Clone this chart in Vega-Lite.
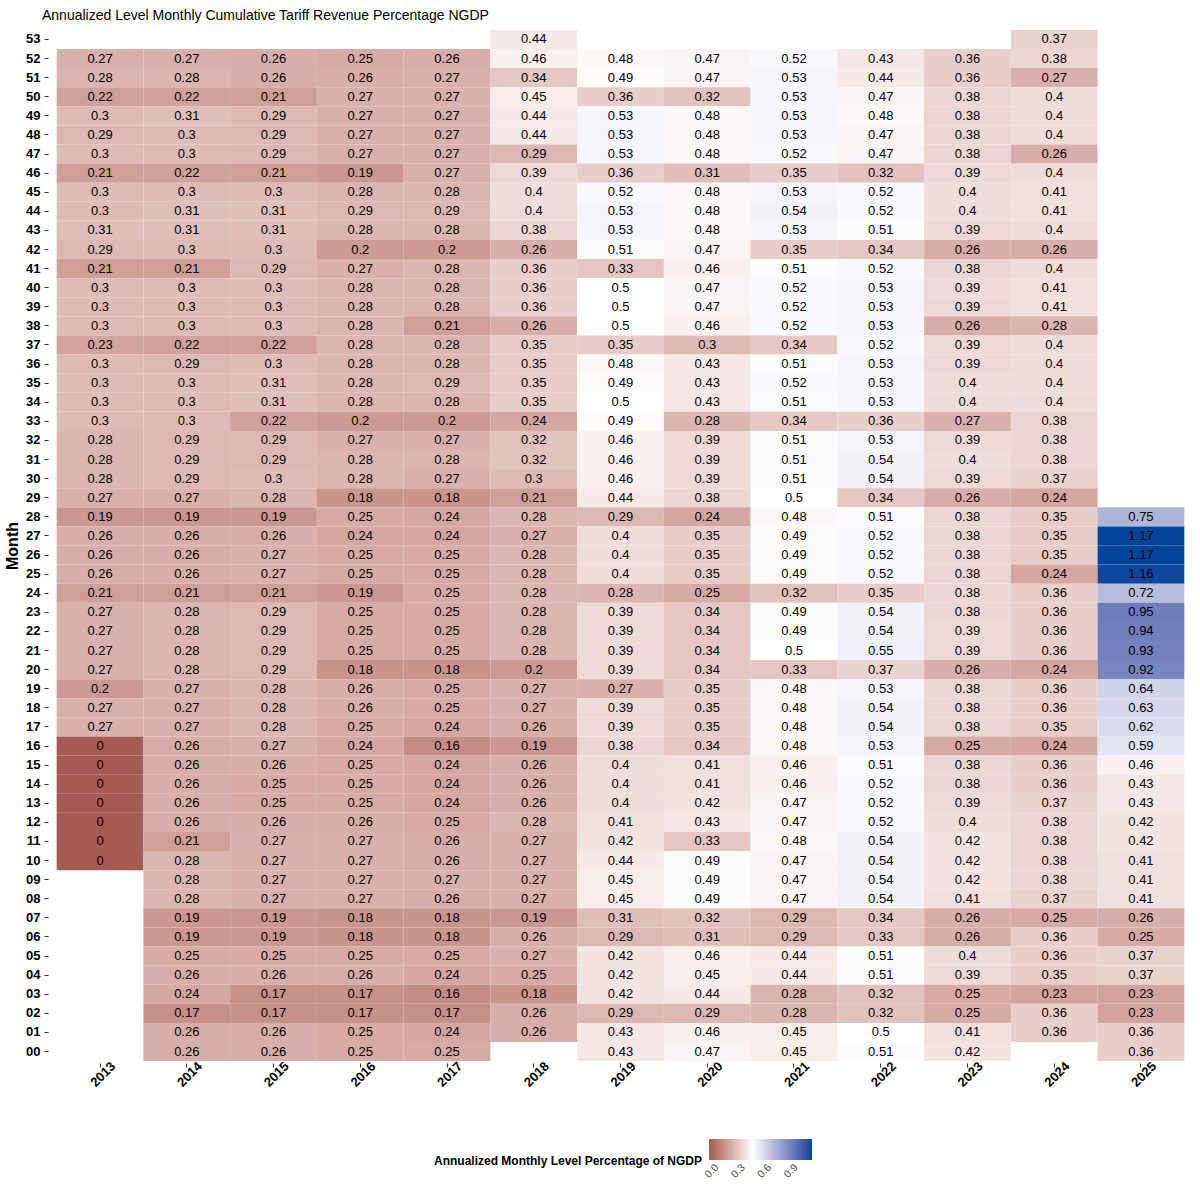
{
"$schema": "https://vega.github.io/schema/vega-lite/v6.json",
"width": 1145, "height": 1035,
"autosize": {"type": "none"},
"padding": {"left": 48, "top": 28, "right": 7, "bottom": 137},
"background": "white",
"title": {"text": "Annualized Level Monthly Cumulative Tariff Revenue Percentage NGDP", "anchor": "start", "frame": "group", "fontSize": 14, "fontWeight": "normal", "font": "Liberation Sans", "color": "black", "dx": -6, "dy": 16, "offset": 10, "baseline": "alphabetic"},
"data": {"values": [
{"year":"2013","week":"52","value":0.27},{"year":"2013","week":"51","value":0.28},{"year":"2013","week":"50","value":0.22},{"year":"2013","week":"49","value":0.3},{"year":"2013","week":"48","value":0.29},{"year":"2013","week":"47","value":0.3},{"year":"2013","week":"46","value":0.21},{"year":"2013","week":"45","value":0.3},{"year":"2013","week":"44","value":0.3},{"year":"2013","week":"43","value":0.31},{"year":"2013","week":"42","value":0.29},{"year":"2013","week":"41","value":0.21},{"year":"2013","week":"40","value":0.3},{"year":"2013","week":"39","value":0.3},{"year":"2013","week":"38","value":0.3},{"year":"2013","week":"37","value":0.23},{"year":"2013","week":"36","value":0.3},{"year":"2013","week":"35","value":0.3},{"year":"2013","week":"34","value":0.3},{"year":"2013","week":"33","value":0.3},{"year":"2013","week":"32","value":0.28},{"year":"2013","week":"31","value":0.28},{"year":"2013","week":"30","value":0.28},{"year":"2013","week":"29","value":0.27},{"year":"2013","week":"28","value":0.19},{"year":"2013","week":"27","value":0.26},{"year":"2013","week":"26","value":0.26},{"year":"2013","week":"25","value":0.26},{"year":"2013","week":"24","value":0.21},{"year":"2013","week":"23","value":0.27},{"year":"2013","week":"22","value":0.27},{"year":"2013","week":"21","value":0.27},{"year":"2013","week":"20","value":0.27},{"year":"2013","week":"19","value":0.2},{"year":"2013","week":"18","value":0.27},{"year":"2013","week":"17","value":0.27},{"year":"2013","week":"16","value":0},{"year":"2013","week":"15","value":0},{"year":"2013","week":"14","value":0},{"year":"2013","week":"13","value":0},{"year":"2013","week":"12","value":0},{"year":"2013","week":"11","value":0},{"year":"2013","week":"10","value":0},
{"year":"2014","week":"52","value":0.27},{"year":"2014","week":"51","value":0.28},{"year":"2014","week":"50","value":0.22},{"year":"2014","week":"49","value":0.31},{"year":"2014","week":"48","value":0.3},{"year":"2014","week":"47","value":0.3},{"year":"2014","week":"46","value":0.22},{"year":"2014","week":"45","value":0.3},{"year":"2014","week":"44","value":0.31},{"year":"2014","week":"43","value":0.31},{"year":"2014","week":"42","value":0.3},{"year":"2014","week":"41","value":0.21},{"year":"2014","week":"40","value":0.3},{"year":"2014","week":"39","value":0.3},{"year":"2014","week":"38","value":0.3},{"year":"2014","week":"37","value":0.22},{"year":"2014","week":"36","value":0.29},{"year":"2014","week":"35","value":0.3},{"year":"2014","week":"34","value":0.3},{"year":"2014","week":"33","value":0.3},{"year":"2014","week":"32","value":0.29},{"year":"2014","week":"31","value":0.29},{"year":"2014","week":"30","value":0.29},{"year":"2014","week":"29","value":0.27},{"year":"2014","week":"28","value":0.19},{"year":"2014","week":"27","value":0.26},{"year":"2014","week":"26","value":0.26},{"year":"2014","week":"25","value":0.26},{"year":"2014","week":"24","value":0.21},{"year":"2014","week":"23","value":0.28},{"year":"2014","week":"22","value":0.28},{"year":"2014","week":"21","value":0.28},{"year":"2014","week":"20","value":0.28},{"year":"2014","week":"19","value":0.27},{"year":"2014","week":"18","value":0.27},{"year":"2014","week":"17","value":0.27},{"year":"2014","week":"16","value":0.26},{"year":"2014","week":"15","value":0.26},{"year":"2014","week":"14","value":0.26},{"year":"2014","week":"13","value":0.26},{"year":"2014","week":"12","value":0.26},{"year":"2014","week":"11","value":0.21},{"year":"2014","week":"10","value":0.28},{"year":"2014","week":"09","value":0.28},{"year":"2014","week":"08","value":0.28},{"year":"2014","week":"07","value":0.19},{"year":"2014","week":"06","value":0.19},{"year":"2014","week":"05","value":0.25},{"year":"2014","week":"04","value":0.26},{"year":"2014","week":"03","value":0.24},{"year":"2014","week":"02","value":0.17},{"year":"2014","week":"01","value":0.26},{"year":"2014","week":"00","value":0.26},
{"year":"2015","week":"52","value":0.26},{"year":"2015","week":"51","value":0.26},{"year":"2015","week":"50","value":0.21},{"year":"2015","week":"49","value":0.29},{"year":"2015","week":"48","value":0.29},{"year":"2015","week":"47","value":0.29},{"year":"2015","week":"46","value":0.21},{"year":"2015","week":"45","value":0.3},{"year":"2015","week":"44","value":0.31},{"year":"2015","week":"43","value":0.31},{"year":"2015","week":"42","value":0.3},{"year":"2015","week":"41","value":0.29},{"year":"2015","week":"40","value":0.3},{"year":"2015","week":"39","value":0.3},{"year":"2015","week":"38","value":0.3},{"year":"2015","week":"37","value":0.22},{"year":"2015","week":"36","value":0.3},{"year":"2015","week":"35","value":0.31},{"year":"2015","week":"34","value":0.31},{"year":"2015","week":"33","value":0.22},{"year":"2015","week":"32","value":0.29},{"year":"2015","week":"31","value":0.29},{"year":"2015","week":"30","value":0.3},{"year":"2015","week":"29","value":0.28},{"year":"2015","week":"28","value":0.19},{"year":"2015","week":"27","value":0.26},{"year":"2015","week":"26","value":0.27},{"year":"2015","week":"25","value":0.27},{"year":"2015","week":"24","value":0.21},{"year":"2015","week":"23","value":0.29},{"year":"2015","week":"22","value":0.29},{"year":"2015","week":"21","value":0.29},{"year":"2015","week":"20","value":0.29},{"year":"2015","week":"19","value":0.28},{"year":"2015","week":"18","value":0.28},{"year":"2015","week":"17","value":0.28},{"year":"2015","week":"16","value":0.27},{"year":"2015","week":"15","value":0.26},{"year":"2015","week":"14","value":0.25},{"year":"2015","week":"13","value":0.25},{"year":"2015","week":"12","value":0.26},{"year":"2015","week":"11","value":0.27},{"year":"2015","week":"10","value":0.27},{"year":"2015","week":"09","value":0.27},{"year":"2015","week":"08","value":0.27},{"year":"2015","week":"07","value":0.19},{"year":"2015","week":"06","value":0.19},{"year":"2015","week":"05","value":0.25},{"year":"2015","week":"04","value":0.26},{"year":"2015","week":"03","value":0.17},{"year":"2015","week":"02","value":0.17},{"year":"2015","week":"01","value":0.26},{"year":"2015","week":"00","value":0.26},
{"year":"2016","week":"52","value":0.25},{"year":"2016","week":"51","value":0.26},{"year":"2016","week":"50","value":0.27},{"year":"2016","week":"49","value":0.27},{"year":"2016","week":"48","value":0.27},{"year":"2016","week":"47","value":0.27},{"year":"2016","week":"46","value":0.19},{"year":"2016","week":"45","value":0.28},{"year":"2016","week":"44","value":0.29},{"year":"2016","week":"43","value":0.28},{"year":"2016","week":"42","value":0.2},{"year":"2016","week":"41","value":0.27},{"year":"2016","week":"40","value":0.28},{"year":"2016","week":"39","value":0.28},{"year":"2016","week":"38","value":0.28},{"year":"2016","week":"37","value":0.28},{"year":"2016","week":"36","value":0.28},{"year":"2016","week":"35","value":0.28},{"year":"2016","week":"34","value":0.28},{"year":"2016","week":"33","value":0.2},{"year":"2016","week":"32","value":0.27},{"year":"2016","week":"31","value":0.28},{"year":"2016","week":"30","value":0.28},{"year":"2016","week":"29","value":0.18},{"year":"2016","week":"28","value":0.25},{"year":"2016","week":"27","value":0.24},{"year":"2016","week":"26","value":0.25},{"year":"2016","week":"25","value":0.25},{"year":"2016","week":"24","value":0.19},{"year":"2016","week":"23","value":0.25},{"year":"2016","week":"22","value":0.25},{"year":"2016","week":"21","value":0.25},{"year":"2016","week":"20","value":0.18},{"year":"2016","week":"19","value":0.26},{"year":"2016","week":"18","value":0.26},{"year":"2016","week":"17","value":0.25},{"year":"2016","week":"16","value":0.24},{"year":"2016","week":"15","value":0.25},{"year":"2016","week":"14","value":0.25},{"year":"2016","week":"13","value":0.25},{"year":"2016","week":"12","value":0.26},{"year":"2016","week":"11","value":0.27},{"year":"2016","week":"10","value":0.27},{"year":"2016","week":"09","value":0.27},{"year":"2016","week":"08","value":0.27},{"year":"2016","week":"07","value":0.18},{"year":"2016","week":"06","value":0.18},{"year":"2016","week":"05","value":0.25},{"year":"2016","week":"04","value":0.26},{"year":"2016","week":"03","value":0.17},{"year":"2016","week":"02","value":0.17},{"year":"2016","week":"01","value":0.25},{"year":"2016","week":"00","value":0.25},
{"year":"2017","week":"52","value":0.26},{"year":"2017","week":"51","value":0.27},{"year":"2017","week":"50","value":0.27},{"year":"2017","week":"49","value":0.27},{"year":"2017","week":"48","value":0.27},{"year":"2017","week":"47","value":0.27},{"year":"2017","week":"46","value":0.27},{"year":"2017","week":"45","value":0.28},{"year":"2017","week":"44","value":0.29},{"year":"2017","week":"43","value":0.28},{"year":"2017","week":"42","value":0.2},{"year":"2017","week":"41","value":0.28},{"year":"2017","week":"40","value":0.28},{"year":"2017","week":"39","value":0.28},{"year":"2017","week":"38","value":0.21},{"year":"2017","week":"37","value":0.28},{"year":"2017","week":"36","value":0.28},{"year":"2017","week":"35","value":0.29},{"year":"2017","week":"34","value":0.28},{"year":"2017","week":"33","value":0.2},{"year":"2017","week":"32","value":0.27},{"year":"2017","week":"31","value":0.28},{"year":"2017","week":"30","value":0.27},{"year":"2017","week":"29","value":0.18},{"year":"2017","week":"28","value":0.24},{"year":"2017","week":"27","value":0.24},{"year":"2017","week":"26","value":0.25},{"year":"2017","week":"25","value":0.25},{"year":"2017","week":"24","value":0.25},{"year":"2017","week":"23","value":0.25},{"year":"2017","week":"22","value":0.25},{"year":"2017","week":"21","value":0.25},{"year":"2017","week":"20","value":0.18},{"year":"2017","week":"19","value":0.25},{"year":"2017","week":"18","value":0.25},{"year":"2017","week":"17","value":0.24},{"year":"2017","week":"16","value":0.16},{"year":"2017","week":"15","value":0.24},{"year":"2017","week":"14","value":0.24},{"year":"2017","week":"13","value":0.24},{"year":"2017","week":"12","value":0.25},{"year":"2017","week":"11","value":0.26},{"year":"2017","week":"10","value":0.26},{"year":"2017","week":"09","value":0.27},{"year":"2017","week":"08","value":0.26},{"year":"2017","week":"07","value":0.18},{"year":"2017","week":"06","value":0.18},{"year":"2017","week":"05","value":0.25},{"year":"2017","week":"04","value":0.24},{"year":"2017","week":"03","value":0.16},{"year":"2017","week":"02","value":0.17},{"year":"2017","week":"01","value":0.24},{"year":"2017","week":"00","value":0.25},
{"year":"2018","week":"53","value":0.44},{"year":"2018","week":"52","value":0.46},{"year":"2018","week":"51","value":0.34},{"year":"2018","week":"50","value":0.45},{"year":"2018","week":"49","value":0.44},{"year":"2018","week":"48","value":0.44},{"year":"2018","week":"47","value":0.29},{"year":"2018","week":"46","value":0.39},{"year":"2018","week":"45","value":0.4},{"year":"2018","week":"44","value":0.4},{"year":"2018","week":"43","value":0.38},{"year":"2018","week":"42","value":0.26},{"year":"2018","week":"41","value":0.36},{"year":"2018","week":"40","value":0.36},{"year":"2018","week":"39","value":0.36},{"year":"2018","week":"38","value":0.26},{"year":"2018","week":"37","value":0.35},{"year":"2018","week":"36","value":0.35},{"year":"2018","week":"35","value":0.35},{"year":"2018","week":"34","value":0.35},{"year":"2018","week":"33","value":0.24},{"year":"2018","week":"32","value":0.32},{"year":"2018","week":"31","value":0.32},{"year":"2018","week":"30","value":0.3},{"year":"2018","week":"29","value":0.21},{"year":"2018","week":"28","value":0.28},{"year":"2018","week":"27","value":0.27},{"year":"2018","week":"26","value":0.28},{"year":"2018","week":"25","value":0.28},{"year":"2018","week":"24","value":0.28},{"year":"2018","week":"23","value":0.28},{"year":"2018","week":"22","value":0.28},{"year":"2018","week":"21","value":0.28},{"year":"2018","week":"20","value":0.2},{"year":"2018","week":"19","value":0.27},{"year":"2018","week":"18","value":0.27},{"year":"2018","week":"17","value":0.26},{"year":"2018","week":"16","value":0.19},{"year":"2018","week":"15","value":0.26},{"year":"2018","week":"14","value":0.26},{"year":"2018","week":"13","value":0.26},{"year":"2018","week":"12","value":0.28},{"year":"2018","week":"11","value":0.27},{"year":"2018","week":"10","value":0.27},{"year":"2018","week":"09","value":0.27},{"year":"2018","week":"08","value":0.27},{"year":"2018","week":"07","value":0.19},{"year":"2018","week":"06","value":0.26},{"year":"2018","week":"05","value":0.27},{"year":"2018","week":"04","value":0.25},{"year":"2018","week":"03","value":0.18},{"year":"2018","week":"02","value":0.26},{"year":"2018","week":"01","value":0.26},
{"year":"2019","week":"52","value":0.48},{"year":"2019","week":"51","value":0.49},{"year":"2019","week":"50","value":0.36},{"year":"2019","week":"49","value":0.53},{"year":"2019","week":"48","value":0.53},{"year":"2019","week":"47","value":0.53},{"year":"2019","week":"46","value":0.36},{"year":"2019","week":"45","value":0.52},{"year":"2019","week":"44","value":0.53},{"year":"2019","week":"43","value":0.53},{"year":"2019","week":"42","value":0.51},{"year":"2019","week":"41","value":0.33},{"year":"2019","week":"40","value":0.5},{"year":"2019","week":"39","value":0.5},{"year":"2019","week":"38","value":0.5},{"year":"2019","week":"37","value":0.35},{"year":"2019","week":"36","value":0.48},{"year":"2019","week":"35","value":0.49},{"year":"2019","week":"34","value":0.5},{"year":"2019","week":"33","value":0.49},{"year":"2019","week":"32","value":0.46},{"year":"2019","week":"31","value":0.46},{"year":"2019","week":"30","value":0.46},{"year":"2019","week":"29","value":0.44},{"year":"2019","week":"28","value":0.29},{"year":"2019","week":"27","value":0.4},{"year":"2019","week":"26","value":0.4},{"year":"2019","week":"25","value":0.4},{"year":"2019","week":"24","value":0.28},{"year":"2019","week":"23","value":0.39},{"year":"2019","week":"22","value":0.39},{"year":"2019","week":"21","value":0.39},{"year":"2019","week":"20","value":0.39},{"year":"2019","week":"19","value":0.27},{"year":"2019","week":"18","value":0.39},{"year":"2019","week":"17","value":0.39},{"year":"2019","week":"16","value":0.38},{"year":"2019","week":"15","value":0.4},{"year":"2019","week":"14","value":0.4},{"year":"2019","week":"13","value":0.4},{"year":"2019","week":"12","value":0.41},{"year":"2019","week":"11","value":0.42},{"year":"2019","week":"10","value":0.44},{"year":"2019","week":"09","value":0.45},{"year":"2019","week":"08","value":0.45},{"year":"2019","week":"07","value":0.31},{"year":"2019","week":"06","value":0.29},{"year":"2019","week":"05","value":0.42},{"year":"2019","week":"04","value":0.42},{"year":"2019","week":"03","value":0.42},{"year":"2019","week":"02","value":0.29},{"year":"2019","week":"01","value":0.43},{"year":"2019","week":"00","value":0.43},
{"year":"2020","week":"52","value":0.47},{"year":"2020","week":"51","value":0.47},{"year":"2020","week":"50","value":0.32},{"year":"2020","week":"49","value":0.48},{"year":"2020","week":"48","value":0.48},{"year":"2020","week":"47","value":0.48},{"year":"2020","week":"46","value":0.31},{"year":"2020","week":"45","value":0.48},{"year":"2020","week":"44","value":0.48},{"year":"2020","week":"43","value":0.48},{"year":"2020","week":"42","value":0.47},{"year":"2020","week":"41","value":0.46},{"year":"2020","week":"40","value":0.47},{"year":"2020","week":"39","value":0.47},{"year":"2020","week":"38","value":0.46},{"year":"2020","week":"37","value":0.3},{"year":"2020","week":"36","value":0.43},{"year":"2020","week":"35","value":0.43},{"year":"2020","week":"34","value":0.43},{"year":"2020","week":"33","value":0.28},{"year":"2020","week":"32","value":0.39},{"year":"2020","week":"31","value":0.39},{"year":"2020","week":"30","value":0.39},{"year":"2020","week":"29","value":0.38},{"year":"2020","week":"28","value":0.24},{"year":"2020","week":"27","value":0.35},{"year":"2020","week":"26","value":0.35},{"year":"2020","week":"25","value":0.35},{"year":"2020","week":"24","value":0.25},{"year":"2020","week":"23","value":0.34},{"year":"2020","week":"22","value":0.34},{"year":"2020","week":"21","value":0.34},{"year":"2020","week":"20","value":0.34},{"year":"2020","week":"19","value":0.35},{"year":"2020","week":"18","value":0.35},{"year":"2020","week":"17","value":0.35},{"year":"2020","week":"16","value":0.34},{"year":"2020","week":"15","value":0.41},{"year":"2020","week":"14","value":0.41},{"year":"2020","week":"13","value":0.42},{"year":"2020","week":"12","value":0.43},{"year":"2020","week":"11","value":0.33},{"year":"2020","week":"10","value":0.49},{"year":"2020","week":"09","value":0.49},{"year":"2020","week":"08","value":0.49},{"year":"2020","week":"07","value":0.32},{"year":"2020","week":"06","value":0.31},{"year":"2020","week":"05","value":0.46},{"year":"2020","week":"04","value":0.45},{"year":"2020","week":"03","value":0.44},{"year":"2020","week":"02","value":0.29},{"year":"2020","week":"01","value":0.46},{"year":"2020","week":"00","value":0.47},
{"year":"2021","week":"52","value":0.52},{"year":"2021","week":"51","value":0.53},{"year":"2021","week":"50","value":0.53},{"year":"2021","week":"49","value":0.53},{"year":"2021","week":"48","value":0.53},{"year":"2021","week":"47","value":0.52},{"year":"2021","week":"46","value":0.35},{"year":"2021","week":"45","value":0.53},{"year":"2021","week":"44","value":0.54},{"year":"2021","week":"43","value":0.53},{"year":"2021","week":"42","value":0.35},{"year":"2021","week":"41","value":0.51},{"year":"2021","week":"40","value":0.52},{"year":"2021","week":"39","value":0.52},{"year":"2021","week":"38","value":0.52},{"year":"2021","week":"37","value":0.34},{"year":"2021","week":"36","value":0.51},{"year":"2021","week":"35","value":0.52},{"year":"2021","week":"34","value":0.51},{"year":"2021","week":"33","value":0.34},{"year":"2021","week":"32","value":0.51},{"year":"2021","week":"31","value":0.51},{"year":"2021","week":"30","value":0.51},{"year":"2021","week":"29","value":0.5},{"year":"2021","week":"28","value":0.48},{"year":"2021","week":"27","value":0.49},{"year":"2021","week":"26","value":0.49},{"year":"2021","week":"25","value":0.49},{"year":"2021","week":"24","value":0.32},{"year":"2021","week":"23","value":0.49},{"year":"2021","week":"22","value":0.49},{"year":"2021","week":"21","value":0.5},{"year":"2021","week":"20","value":0.33},{"year":"2021","week":"19","value":0.48},{"year":"2021","week":"18","value":0.48},{"year":"2021","week":"17","value":0.48},{"year":"2021","week":"16","value":0.48},{"year":"2021","week":"15","value":0.46},{"year":"2021","week":"14","value":0.46},{"year":"2021","week":"13","value":0.47},{"year":"2021","week":"12","value":0.47},{"year":"2021","week":"11","value":0.48},{"year":"2021","week":"10","value":0.47},{"year":"2021","week":"09","value":0.47},{"year":"2021","week":"08","value":0.47},{"year":"2021","week":"07","value":0.29},{"year":"2021","week":"06","value":0.29},{"year":"2021","week":"05","value":0.44},{"year":"2021","week":"04","value":0.44},{"year":"2021","week":"03","value":0.28},{"year":"2021","week":"02","value":0.28},{"year":"2021","week":"01","value":0.45},{"year":"2021","week":"00","value":0.45},
{"year":"2022","week":"52","value":0.43},{"year":"2022","week":"51","value":0.44},{"year":"2022","week":"50","value":0.47},{"year":"2022","week":"49","value":0.48},{"year":"2022","week":"48","value":0.47},{"year":"2022","week":"47","value":0.47},{"year":"2022","week":"46","value":0.32},{"year":"2022","week":"45","value":0.52},{"year":"2022","week":"44","value":0.52},{"year":"2022","week":"43","value":0.51},{"year":"2022","week":"42","value":0.34},{"year":"2022","week":"41","value":0.52},{"year":"2022","week":"40","value":0.53},{"year":"2022","week":"39","value":0.53},{"year":"2022","week":"38","value":0.53},{"year":"2022","week":"37","value":0.52},{"year":"2022","week":"36","value":0.53},{"year":"2022","week":"35","value":0.53},{"year":"2022","week":"34","value":0.53},{"year":"2022","week":"33","value":0.36},{"year":"2022","week":"32","value":0.53},{"year":"2022","week":"31","value":0.54},{"year":"2022","week":"30","value":0.54},{"year":"2022","week":"29","value":0.34},{"year":"2022","week":"28","value":0.51},{"year":"2022","week":"27","value":0.52},{"year":"2022","week":"26","value":0.52},{"year":"2022","week":"25","value":0.52},{"year":"2022","week":"24","value":0.35},{"year":"2022","week":"23","value":0.54},{"year":"2022","week":"22","value":0.54},{"year":"2022","week":"21","value":0.55},{"year":"2022","week":"20","value":0.37},{"year":"2022","week":"19","value":0.53},{"year":"2022","week":"18","value":0.54},{"year":"2022","week":"17","value":0.54},{"year":"2022","week":"16","value":0.53},{"year":"2022","week":"15","value":0.51},{"year":"2022","week":"14","value":0.52},{"year":"2022","week":"13","value":0.52},{"year":"2022","week":"12","value":0.52},{"year":"2022","week":"11","value":0.54},{"year":"2022","week":"10","value":0.54},{"year":"2022","week":"09","value":0.54},{"year":"2022","week":"08","value":0.54},{"year":"2022","week":"07","value":0.34},{"year":"2022","week":"06","value":0.33},{"year":"2022","week":"05","value":0.51},{"year":"2022","week":"04","value":0.51},{"year":"2022","week":"03","value":0.32},{"year":"2022","week":"02","value":0.32},{"year":"2022","week":"01","value":0.5},{"year":"2022","week":"00","value":0.51},
{"year":"2023","week":"52","value":0.36},{"year":"2023","week":"51","value":0.36},{"year":"2023","week":"50","value":0.38},{"year":"2023","week":"49","value":0.38},{"year":"2023","week":"48","value":0.38},{"year":"2023","week":"47","value":0.38},{"year":"2023","week":"46","value":0.39},{"year":"2023","week":"45","value":0.4},{"year":"2023","week":"44","value":0.4},{"year":"2023","week":"43","value":0.39},{"year":"2023","week":"42","value":0.26},{"year":"2023","week":"41","value":0.38},{"year":"2023","week":"40","value":0.39},{"year":"2023","week":"39","value":0.39},{"year":"2023","week":"38","value":0.26},{"year":"2023","week":"37","value":0.39},{"year":"2023","week":"36","value":0.39},{"year":"2023","week":"35","value":0.4},{"year":"2023","week":"34","value":0.4},{"year":"2023","week":"33","value":0.27},{"year":"2023","week":"32","value":0.39},{"year":"2023","week":"31","value":0.4},{"year":"2023","week":"30","value":0.39},{"year":"2023","week":"29","value":0.26},{"year":"2023","week":"28","value":0.38},{"year":"2023","week":"27","value":0.38},{"year":"2023","week":"26","value":0.38},{"year":"2023","week":"25","value":0.38},{"year":"2023","week":"24","value":0.38},{"year":"2023","week":"23","value":0.38},{"year":"2023","week":"22","value":0.39},{"year":"2023","week":"21","value":0.39},{"year":"2023","week":"20","value":0.26},{"year":"2023","week":"19","value":0.38},{"year":"2023","week":"18","value":0.38},{"year":"2023","week":"17","value":0.38},{"year":"2023","week":"16","value":0.25},{"year":"2023","week":"15","value":0.38},{"year":"2023","week":"14","value":0.38},{"year":"2023","week":"13","value":0.39},{"year":"2023","week":"12","value":0.4},{"year":"2023","week":"11","value":0.42},{"year":"2023","week":"10","value":0.42},{"year":"2023","week":"09","value":0.42},{"year":"2023","week":"08","value":0.41},{"year":"2023","week":"07","value":0.26},{"year":"2023","week":"06","value":0.26},{"year":"2023","week":"05","value":0.4},{"year":"2023","week":"04","value":0.39},{"year":"2023","week":"03","value":0.25},{"year":"2023","week":"02","value":0.25},{"year":"2023","week":"01","value":0.41},{"year":"2023","week":"00","value":0.42},
{"year":"2024","week":"53","value":0.37},{"year":"2024","week":"52","value":0.38},{"year":"2024","week":"51","value":0.27},{"year":"2024","week":"50","value":0.4},{"year":"2024","week":"49","value":0.4},{"year":"2024","week":"48","value":0.4},{"year":"2024","week":"47","value":0.26},{"year":"2024","week":"46","value":0.4},{"year":"2024","week":"45","value":0.41},{"year":"2024","week":"44","value":0.41},{"year":"2024","week":"43","value":0.4},{"year":"2024","week":"42","value":0.26},{"year":"2024","week":"41","value":0.4},{"year":"2024","week":"40","value":0.41},{"year":"2024","week":"39","value":0.41},{"year":"2024","week":"38","value":0.28},{"year":"2024","week":"37","value":0.4},{"year":"2024","week":"36","value":0.4},{"year":"2024","week":"35","value":0.4},{"year":"2024","week":"34","value":0.4},{"year":"2024","week":"33","value":0.38},{"year":"2024","week":"32","value":0.38},{"year":"2024","week":"31","value":0.38},{"year":"2024","week":"30","value":0.37},{"year":"2024","week":"29","value":0.24},{"year":"2024","week":"28","value":0.35},{"year":"2024","week":"27","value":0.35},{"year":"2024","week":"26","value":0.35},{"year":"2024","week":"25","value":0.24},{"year":"2024","week":"24","value":0.36},{"year":"2024","week":"23","value":0.36},{"year":"2024","week":"22","value":0.36},{"year":"2024","week":"21","value":0.36},{"year":"2024","week":"20","value":0.24},{"year":"2024","week":"19","value":0.36},{"year":"2024","week":"18","value":0.36},{"year":"2024","week":"17","value":0.35},{"year":"2024","week":"16","value":0.24},{"year":"2024","week":"15","value":0.36},{"year":"2024","week":"14","value":0.36},{"year":"2024","week":"13","value":0.37},{"year":"2024","week":"12","value":0.38},{"year":"2024","week":"11","value":0.38},{"year":"2024","week":"10","value":0.38},{"year":"2024","week":"09","value":0.38},{"year":"2024","week":"08","value":0.37},{"year":"2024","week":"07","value":0.25},{"year":"2024","week":"06","value":0.36},{"year":"2024","week":"05","value":0.36},{"year":"2024","week":"04","value":0.35},{"year":"2024","week":"03","value":0.23},{"year":"2024","week":"02","value":0.36},{"year":"2024","week":"01","value":0.36},
{"year":"2025","week":"28","value":0.75},{"year":"2025","week":"27","value":1.17},{"year":"2025","week":"26","value":1.17},{"year":"2025","week":"25","value":1.16},{"year":"2025","week":"24","value":0.72},{"year":"2025","week":"23","value":0.95},{"year":"2025","week":"22","value":0.94},{"year":"2025","week":"21","value":0.93},{"year":"2025","week":"20","value":0.92},{"year":"2025","week":"19","value":0.64},{"year":"2025","week":"18","value":0.63},{"year":"2025","week":"17","value":0.62},{"year":"2025","week":"16","value":0.59},{"year":"2025","week":"15","value":0.46},{"year":"2025","week":"14","value":0.43},{"year":"2025","week":"13","value":0.43},{"year":"2025","week":"12","value":0.42},{"year":"2025","week":"11","value":0.42},{"year":"2025","week":"10","value":0.41},{"year":"2025","week":"09","value":0.41},{"year":"2025","week":"08","value":0.41},{"year":"2025","week":"07","value":0.26},{"year":"2025","week":"06","value":0.25},{"year":"2025","week":"05","value":0.37},{"year":"2025","week":"04","value":0.37},{"year":"2025","week":"03","value":0.23},{"year":"2025","week":"02","value":0.23},{"year":"2025","week":"01","value":0.36},{"year":"2025","week":"00","value":0.36}
]},
"encoding": {
  "x": {"field": "year", "type": "ordinal", "sort": "ascending", "scale": {"paddingInner": 0, "paddingOuter": 0.1},
        "axis": {"title": null, "labelAngle": -45, "labelAlign": "center", "labelBaseline": "middle", "labelPadding": 7, "labelOffset": 3, "labelFontSize": 13, "labelFontWeight": "bold", "labelColor": "black", "labelFont": "Liberation Sans", "tickSize": 4, "tickColor": "#333333", "domain": false, "grid": false}},
  "y": {"field": "week", "type": "ordinal", "sort": "descending", "scale": {"paddingInner": 0, "paddingOuter": 0.1},
        "axis": {"title": "Month", "titleFontSize": 16, "titleFontWeight": "bold", "titleColor": "black", "titleFont": "Liberation Sans", "titlePadding": 5, "labelFontSize": 13, "labelFontWeight": "bold", "labelColor": "black", "labelFont": "Liberation Sans", "labelPadding": 4, "tickSize": 4, "tickColor": "#333333", "domain": false, "grid": false}}
},
"layer": [
  {"mark": {"type": "rect"},
   "encoding": {"color": {"field": "value", "type": "quantitative",
      "scale": {"domain": [0, 0.5, 1.17], "range": ["#A65A52", "#FFFFFF", "#00459A"], "interpolate": "lab"},
      "legend": {"title": "Annualized Monthly Level Percentage of NGDP", "orient": "none", "legendX": 386, "legendY": 1111, "direction": "horizontal", "titleOrient": "left", "titleAnchor": "end", "titleBaseline": "bottom", "titleLimit": 500, "titleFontSize": 12, "titleFontWeight": "bold", "titleColor": "black", "titleFont": "Liberation Sans", "titlePadding": 6, "gradientLength": 103, "gradientThickness": 21, "values": [0, 0.3, 0.6, 0.9], "format": ".1f", "labelFontSize": 10.5, "labelColor": "#4d4d4d", "labelFont": "Liberation Sans", "labelOffset": 14,
        "encode": {"title": {"update": {"dy": {"value": 8}}}, "labels": {"update": {"angle": {"value": -45}, "align": {"value": "center"}, "baseline": {"value": "middle"}, "dx": {"value": 4}}}}}}}},
  {"mark": {"type": "text", "fontSize": 13, "font": "Liberation Sans", "color": "black"},
   "encoding": {"text": {"field": "value", "type": "quantitative", "format": "~g"}}}
],
"config": {"view": {"stroke": null}}
}
